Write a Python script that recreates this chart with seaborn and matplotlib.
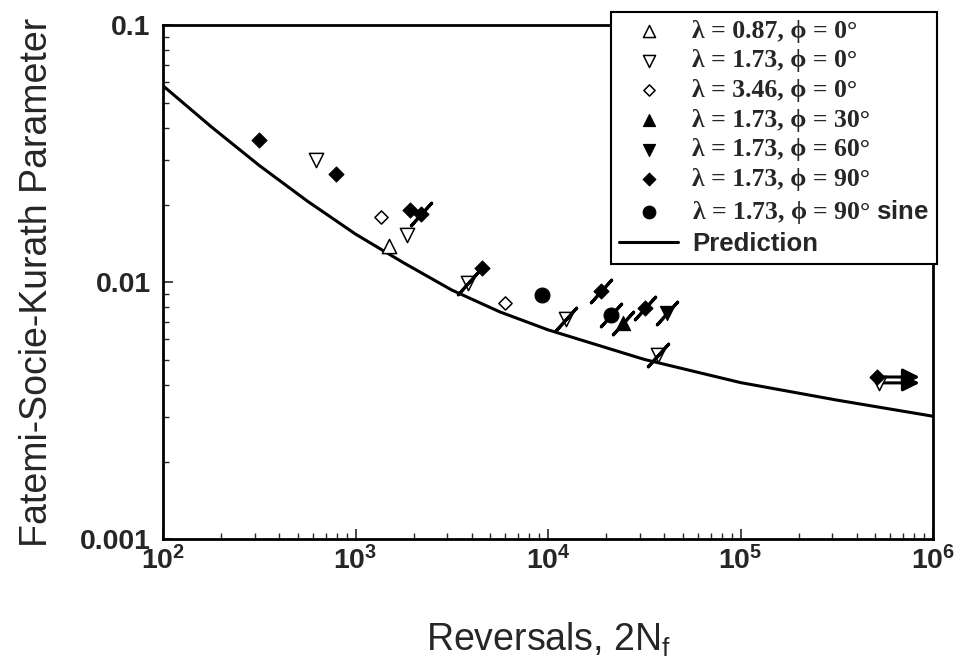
import numpy as np
import pandas as pd
import seaborn as sns
import matplotlib.pyplot as plt
from matplotlib.ticker import NullFormatter, LogLocator

sns.set_style("ticks", {"xtick.direction": "in", "ytick.direction": "in"})
plt.rcParams['font.family'] = ['Liberation Sans', 'DejaVu Sans']
plt.rcParams['mathtext.fontset'] = 'custom'
plt.rcParams['mathtext.sf'] = 'Liberation Sans:bold'
plt.rcParams['mathtext.rm'] = 'Liberation Sans'

# test data: reversals 2Nf and FSK parameter
lam087_phi0_x = [1490]
lam087_phi0_y = [0.0139]
lam173_phi0_x = [622, 1840, 3830, 12400, 37000, 525000]
lam173_phi0_y = [0.0299, 0.0153, 0.00998, 0.00719, 0.00520, 0.00406]
lam346_phi0_x = [1360, 5960]
lam346_phi0_y = [0.0180, 0.00830]
phi30_x = [24400]
phi30_y = [0.00693]
phi60_x = [41600]
phi60_y = [0.00759]
phi90_x = [315, 789, 1910, 2190, 4540, 18800, 31800, 512000]
phi90_y = [0.0358, 0.0264, 0.0192, 0.0185, 0.01132, 0.00924, 0.00791, 0.00428]
sine_x = [9330, 21300]
sine_y = [0.00895, 0.00748]

# points drawn with a slash through them
slash_x = [2190, 3830, 12400, 18800, 21300, 24400, 31800, 41600, 37000]
slash_y = [0.0185, 0.00998, 0.00719, 0.00924, 0.00748, 0.00693, 0.00791, 0.00759, 0.00520]

# runouts (arrow to the right)
runout_x = [512000, 525000]
runout_y = [0.00428, 0.00406]
runout_end = 880000

# prediction curve
pred_x = [100, 178, 316, 562, 1000, 1780, 3160, 5620, 10000, 31600, 100000, 316000, 1000000]
pred_y = [0.0582, 0.0403, 0.0285, 0.0207, 0.0154, 0.0119, 0.00933, 0.00767, 0.00653,
          0.00501, 0.00407, 0.00348, 0.00301]

groups = [
    ("λ = 0.87, ϕ = 0°", lam087_phi0_x, lam087_phi0_y, "^", False, 105),
    ("λ = 1.73, ϕ = 0°", lam173_phi0_x, lam173_phi0_y, "v", False, 105),
    ("λ = 3.46, ϕ = 0°", lam346_phi0_x, lam346_phi0_y, "D", False, 45),
    ("λ = 1.73, ϕ = 30°", phi30_x, phi30_y, "^", True, 105),
    ("λ = 1.73, ϕ = 60°", phi60_x, phi60_y, "v", True, 105),
    ("λ = 1.73, ϕ = 90°", phi90_x, phi90_y, "D", True, 58),
    (r"λ = 1.73, ϕ = 90° $\mathsf{sine}$", sine_x, sine_y, "o", True, 115),
]

fig = plt.figure(figsize=(9.65, 6.69), dpi=100)
ax = fig.add_axes([0.169, 0.194, 0.798, 0.768])

for lab, gx, gy, m, filled, s in groups:
    if filled:
        sns.scatterplot(x=gx, y=gy, marker=m, s=s, color='black', edgecolor='black',
                        linewidth=0.8, ax=ax, label=lab, zorder=4)
    else:
        sns.scatterplot(x=gx, y=gy, marker=m, s=s, color='white', edgecolor='black',
                        linewidth=1.1, ax=ax, label=lab, zorder=4)

sns.scatterplot(x=slash_x, y=slash_y, marker=(2, 2, -42), s=480, color='black',
                edgecolor='black', linewidth=2.2, ax=ax, legend=False, zorder=5)

for rx, ry in zip(runout_x, runout_y):
    ax.annotate('', xy=(runout_end, ry), xytext=(rx, ry),
                arrowprops=dict(arrowstyle='-|>,head_length=1.0,head_width=0.5',
                                color='black', lw=2.2), zorder=3)

sns.lineplot(x=pred_x, y=pred_y, color='black', linewidth=2.2, ax=ax,
             label='Prediction', zorder=3)

ax.set_xscale('log')
ax.set_yscale('log')
ax.set_xlim(1e2, 1e6)
ax.set_ylim(1e-3, 1e-1)

xexp = [2, 3, 4, 5, 6]
ax.set_xticks([10.0 ** e for e in xexp],
              labels=[r'$\mathsf{10^{%d}}$' % e for e in xexp])
ax.set_yticks([0.001, 0.01, 0.1], labels=['0.001', '0.01', '0.1'])
ax.xaxis.set_minor_locator(LogLocator(base=10, subs=np.arange(2, 10)))
ax.yaxis.set_minor_locator(LogLocator(base=10, subs=np.arange(2, 10)))
ax.xaxis.set_minor_formatter(NullFormatter())
ax.yaxis.set_minor_formatter(NullFormatter())
ax.tick_params(which='major', length=7, width=1.2, labelsize=20.5, top=False, right=False)
ax.tick_params(which='minor', length=4, width=1.0, top=False, right=False)
ax.tick_params(axis='x', which='major', pad=5)
ax.tick_params(axis='y', which='major', pad=9)
for t in ax.get_yticklabels():
    t.set_fontweight('bold')

for sp in ax.spines.values():
    sp.set_linewidth(2.0)
    sp.set_color('black')

ax.set_xlabel(r'Reversals, 2N$_{\mathrm{f}}$', fontsize=27, labelpad=33)
ax.set_ylabel('Fatemi-Socie-Kurath Parameter', fontsize=27, labelpad=18)

handles, labels = ax.get_legend_handles_labels()
leg = ax.legend(handles, labels, loc='upper right',
                bbox_to_anchor=(937 / 965, 1 - 12 / 669), bbox_transform=fig.transFigure,
                frameon=True, fancybox=False, framealpha=1, edgecolor='black',
                borderaxespad=0, handlelength=2.3, handletextpad=0.55, labelspacing=0.26,
                borderpad=0.3, markerscale=0.85,
                prop={'family': ['Liberation Serif', 'DejaVu Serif'], 'weight': 'bold', 'size': 18.5})
leg.get_frame().set_linewidth(1.5)
leg.set_zorder(6)
leg.get_texts()[-1].set_fontfamily(['Liberation Sans', 'DejaVu Sans'])

fig.savefig('out.png', dpi=100)
